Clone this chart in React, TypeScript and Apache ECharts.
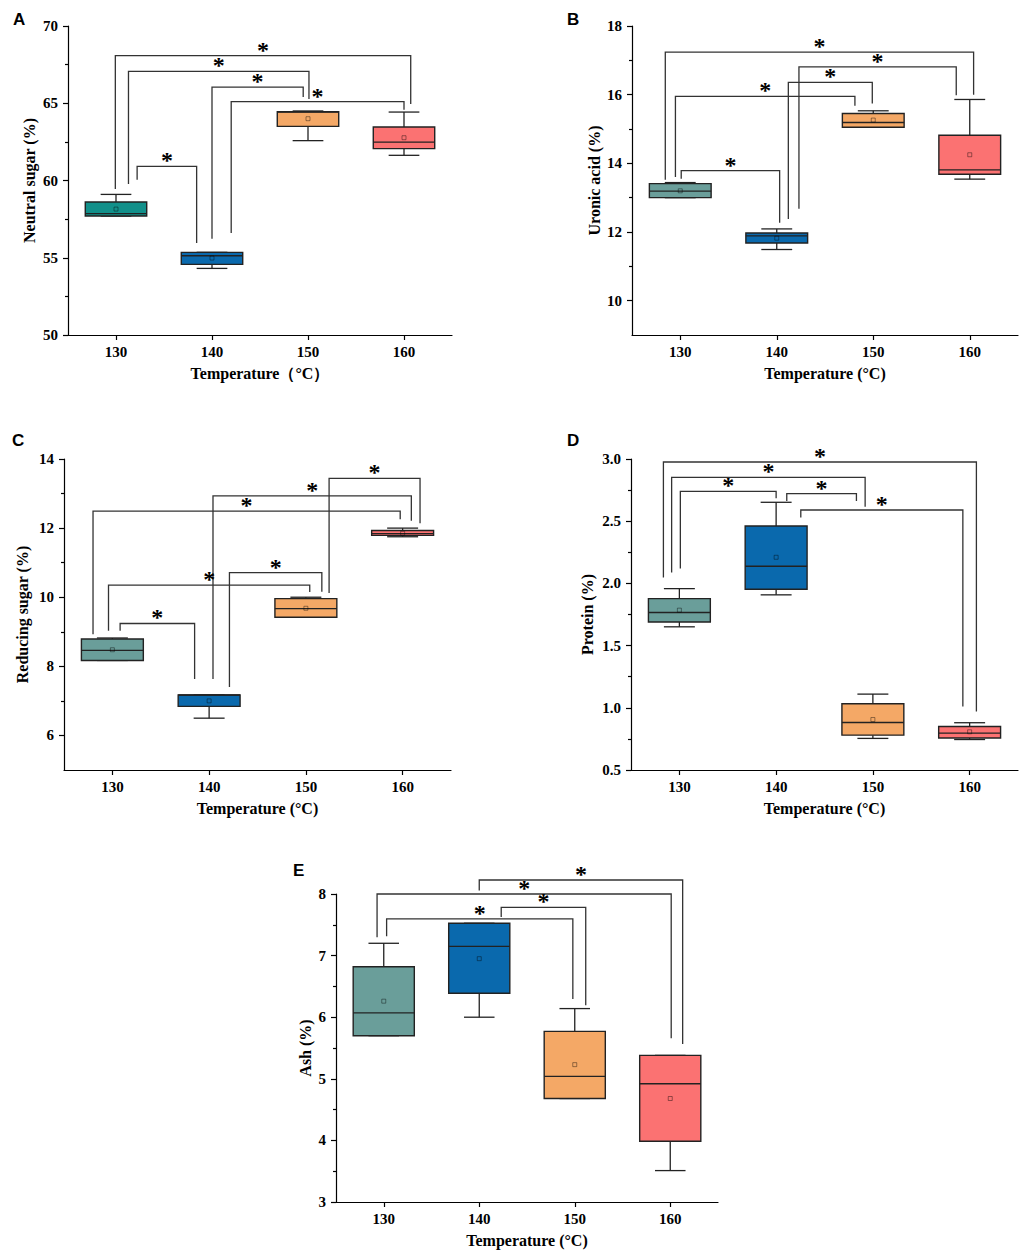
import React, { useEffect, useRef } from "react";
import * as echarts from "echarts";

// ---------- data ----------
const categories = [130, 140, 150, 160];
const xTickValues = [130, 140, 150, 160];

// box stats: [min, Q1, median, Q3, max]
const neutralSugarStats = [
  [57.7, 57.7, 57.86, 58.61, 59.1],
  [54.31, 54.57, 55.13, 55.35, 55.35],
  [62.58, 63.5, 64.42, 64.45, 64.5],
  [61.63, 62.06, 62.49, 63.46, 64.43],
];
const neutralSugarMeans = [58.15, 54.98, 64.0, 62.77];
// brackets: [xLeft, yLeftEnd, xRight, yRightEnd, yTop]
const neutralSugarBrackets = [
  [129.93, 59.45, 160.7, 64.95, 68.08],
  [131.3, 59.77, 150.1, 65.28, 67.06],
  [140.0, 56.23, 149.5, 65.4, 66.05],
  [142.0, 56.6, 160.0, 64.58, 65.1],
  [132.2, 60.05, 138.4, 55.95, 60.91],
];
const neutralSugarMajorTicks = [50, 55, 60, 65, 70];
const neutralSugarMinorTicks = [52.5, 57.5, 62.5, 67.5];

const uronicAcidStats = [
  [13.0, 13.0, 13.19, 13.41, 13.44],
  [11.49, 11.68, 11.89, 11.97, 12.09],
  [15.05, 15.05, 15.19, 15.45, 15.53],
  [13.54, 13.68, 13.81, 14.82, 15.86],
];
const uronicAcidMeans = [13.2, 11.82, 15.26, 14.25];
const uronicAcidBrackets = [
  [128.45, 13.52, 160.4, 16.0, 17.24],
  [129.5, 13.6, 148.1, 15.68, 15.95],
  [141.2, 12.38, 149.9, 15.74, 16.36],
  [142.3, 12.68, 158.6, 15.98, 16.81],
  [130.1, 13.55, 140.3, 12.27, 13.79],
];
const uronicAcidMajorTicks = [10, 12, 14, 16, 18];
const uronicAcidMinorTicks = [11, 13, 15, 17];

const reducingSugarStats = [
  [8.17, 8.17, 8.46, 8.79, 8.82],
  [6.5, 6.84, 7.17, 7.17, 7.17],
  [9.42, 9.42, 9.67, 9.96, 10.0],
  [11.75, 11.79, 11.84, 11.93, 12.0],
];
const reducingSugarMeans = [8.48, 7.0, 9.68, 11.85];
const reducingSugarBrackets = [
  [152.4, 10.12, 161.8, 12.14, 13.44],
  [140.4, 7.63, 160.9, 12.21, 12.93],
  [128.0, 8.93, 159.75, 12.26, 12.49],
  [142.1, 7.4, 151.65, 10.16, 10.71],
  [129.6, 9.03, 150.4, 10.15, 10.35],
  [130.8, 9.03, 138.5, 7.63, 9.24],
];
const reducingSugarMajorTicks = [6, 8, 10, 12, 14];
const reducingSugarMinorTicks = [7, 9, 11, 13];

const proteinStats = [
  [1.651, 1.69, 1.766, 1.878, 1.958],
  [1.908, 1.953, 2.138, 2.462, 2.652],
  [0.754, 0.78, 0.882, 1.032, 1.11],
  [0.745, 0.757, 0.797, 0.85, 0.88],
];
const proteinMeans = [1.785, 2.21, 0.906, 0.807];
const proteinBrackets = [
  [128.35, 2.047, 160.7, 0.97, 2.976],
  [129.2, 2.087, 149.2, 2.617, 2.853],
  [130.1, 2.119, 140.0, 2.684, 2.74],
  [141.1, 2.663, 148.3, 2.663, 2.721],
  [142.55, 2.529, 159.3, 1.01, 2.59],
];
const proteinMajorTicks = [0.5, 1.0, 1.5, 2.0, 2.5, 3.0];
const proteinMinorTicks = [0.75, 1.25, 1.75, 2.25, 2.75];

const ashStats = [
  [5.7, 5.7, 6.07, 6.82, 7.2],
  [6.0, 6.39, 7.15, 7.525, 7.525],
  [4.68, 4.68, 5.04, 5.77, 6.14],
  [3.51, 3.985, 4.92, 5.38, 5.38],
];
const ashMeans = [6.26, 6.95, 5.23, 4.68];
const ashBrackets = [
  [140.0, 8.055, 161.3, 5.563, 8.227],
  [129.3, 7.298, 160.1, 5.66, 8.0],
  [142.3, 7.627, 151.15, 6.195, 7.784],
  [130.3, 7.314, 149.8, 6.297, 7.595],
];
const ashMajorTicks = [3, 4, 5, 6, 7, 8];
const ashMinorTicks = [3.5, 4.5, 5.5, 6.5, 7.5];

const colorsA = ["#12908a", "#0a69ad", "#f4a866", "#fb7272"];
const colorsOther = ["#6a9e9a", "#0a69ad", "#f4a866", "#fb7272"];

// ---------- layout / style ----------
const SERIF = "'Liberation Serif', 'Times New Roman', serif";
const SANS = "'Liberation Sans', Arial, sans-serif";

const panels = [
  {
    letter: "A", letterX: 13, letterY: 11,
    yName: "Neutral sugar (%)", xName: "Temperature（°C）",
    min: 50, max: 70, major: neutralSugarMajorTicks, minor: neutralSugarMinorTicks, dec: 0,
    stats: neutralSugarStats, means: neutralSugarMeans, brackets: neutralSugarBrackets,
    colors: colorsA, grid: { left: 68, top: 26, width: 384, height: 309 }, yGap: 31,
  },
  {
    letter: "B", letterX: 567, letterY: 11,
    yName: "Uronic acid (%)", xName: "Temperature (°C)",
    min: 9, max: 18, major: uronicAcidMajorTicks, minor: uronicAcidMinorTicks, dec: 0,
    stats: uronicAcidStats, means: uronicAcidMeans, brackets: uronicAcidBrackets,
    colors: colorsOther, grid: { left: 632, top: 26, width: 386, height: 309 }, yGap: 30,
  },
  {
    letter: "C", letterX: 12, letterY: 432,
    yName: "Reducing sugar (%)", xName: "Temperature (°C)",
    min: 5, max: 14, major: reducingSugarMajorTicks, minor: reducingSugarMinorTicks, dec: 0,
    stats: reducingSugarStats, means: reducingSugarMeans, brackets: reducingSugarBrackets,
    colors: colorsOther, grid: { left: 64, top: 459, width: 387, height: 311 }, yGap: 34,
  },
  {
    letter: "D", letterX: 567, letterY: 432,
    yName: "Protein (%)", xName: "Temperature (°C)",
    min: 0.5, max: 3.0, major: proteinMajorTicks, minor: proteinMinorTicks, dec: 1,
    stats: proteinStats, means: proteinMeans, brackets: proteinBrackets,
    colors: colorsOther, grid: { left: 631, top: 459, width: 387, height: 311 }, yGap: 36,
  },
  {
    letter: "E", letterX: 293, letterY: 862,
    yName: "Ash (%)", xName: "Temperature (°C)",
    min: 3, max: 8, major: ashMajorTicks, minor: ashMinorTicks, dec: 0,
    stats: ashStats, means: ashMeans, brackets: ashBrackets,
    colors: colorsOther, grid: { left: 336, top: 894, width: 382, height: 308 }, yGap: 23,
  },
];

const BOX_HALF = 3.2;
const CAP_HALF = 1.6;

function buildOption() {
  const grid: any[] = [];
  const xAxis: any[] = [];
  const yAxis: any[] = [];
  const series: any[] = [];
  const graphic: any[] = [];

  panels.forEach((p, i) => {
    grid.push({ ...p.grid });
    xAxis.push({
      type: "value",
      gridIndex: i,
      min: 125,
      max: 165,
      axisLine: { show: true, onZero: false, lineStyle: { color: "#000", width: 1.2 } },
      axisTick: { show: true, customValues: xTickValues, length: 5, lineStyle: { color: "#000", width: 1.2 } },
      axisLabel: {
        customValues: xTickValues, margin: 9, color: "#000",
        fontFamily: SERIF, fontWeight: "bold", fontSize: 15,
      },
      splitLine: { show: false },
      name: p.xName,
      nameLocation: "middle",
      nameGap: 30,
      nameTextStyle: { color: "#000", fontFamily: SERIF, fontWeight: "bold", fontSize: 16 },
    });
    yAxis.push({
      type: "value",
      gridIndex: i,
      min: p.min,
      max: p.max,
      axisLine: { show: true, onZero: false, lineStyle: { color: "#000", width: 1.2 } },
      axisTick: { show: true, customValues: p.major, length: 5, lineStyle: { color: "#000", width: 1.2 } },
      axisLabel: {
        customValues: p.major, margin: 10, color: "#000",
        fontFamily: SERIF, fontWeight: "bold", fontSize: 15,
        formatter: (v: number) => v.toFixed(p.dec),
      },
      splitLine: { show: false },
      name: p.yName,
      nameLocation: "middle",
      nameGap: p.yGap,
      nameTextStyle: { color: "#000", fontFamily: SERIF, fontWeight: "bold", fontSize: 16 },
    });
    yAxis.push({
      type: "value",
      gridIndex: i,
      min: p.min,
      max: p.max,
      position: "left",
      axisLine: { show: false },
      axisTick: { show: true, customValues: p.minor, length: 3, lineStyle: { color: "#000", width: 1.2 } },
      axisLabel: { show: false, customValues: p.minor },
      splitLine: { show: false },
    });

    const colors = p.colors;
    series.push({
      type: "custom",
      xAxisIndex: i,
      yAxisIndex: i * 2,
      clip: false,
      encode: { x: 0, y: [1, 2, 3, 4, 5, 6] },
      data: p.stats.map((s, k) => [categories[k], ...s, p.means[k]]),
      renderItem: (params: any, api: any) => {
        const x = api.value(0);
        const mn = api.value(1), q1 = api.value(2), md = api.value(3);
        const q3 = api.value(4), mx = api.value(5), mean = api.value(6);
        const c = colors[params.dataIndex];
        const lineStyle = { stroke: "#222", lineWidth: 1.3 };
        const pt = (xx: number, yy: number) => api.coord([xx, yy]);
        const children: any[] = [];
        const seg = (a: number[], b: number[]) =>
          children.push({ type: "line", shape: { x1: a[0], y1: a[1], x2: b[0], y2: b[1] }, style: lineStyle });
        seg(pt(x, q3), pt(x, mx));
        seg(pt(x, q1), pt(x, mn));
        seg(pt(x - CAP_HALF, mx), pt(x + CAP_HALF, mx));
        seg(pt(x - CAP_HALF, mn), pt(x + CAP_HALF, mn));
        const tl = pt(x - BOX_HALF, q3);
        const br = pt(x + BOX_HALF, q1);
        children.push({
          type: "rect",
          shape: { x: tl[0], y: tl[1], width: br[0] - tl[0], height: br[1] - tl[1] },
          style: { fill: c, stroke: "#222", lineWidth: 1.4 },
        });
        seg(pt(x - BOX_HALF, md), pt(x + BOX_HALF, md));
        const m = pt(x, mean);
        children.push({
          type: "rect",
          shape: { x: m[0] - 2, y: m[1] - 2, width: 4, height: 4 },
          style: { fill: "none", stroke: "rgba(0,0,0,0.4)", lineWidth: 1 },
        });
        return { type: "group", children };
      },
    });

    series.push({
      type: "custom",
      xAxisIndex: i,
      yAxisIndex: i * 2,
      clip: false,
      encode: { x: [0, 2], y: [1, 3, 4] },
      data: p.brackets,
      renderItem: (params: any, api: any) => {
        const xL = api.value(0), yL = api.value(1), xR = api.value(2), yR = api.value(3), yT = api.value(4);
        const a = api.coord([xL, yL]);
        const b = api.coord([xL, yT]);
        const c = api.coord([xR, yT]);
        const d = api.coord([xR, yR]);
        return {
          type: "group",
          children: [
            {
              type: "polyline",
              shape: { points: [a, b, c, d] },
              style: { fill: "none", stroke: "#333", lineWidth: 1.3 },
            },
            {
              type: "text",
              style: {
                text: "*",
                x: (b[0] + c[0]) / 2,
                y: b[1] - 6,
                fill: "#000",
                font: `bold 24px ${SERIF}`,
                align: "center",
                verticalAlign: "middle",
              },
            },
          ],
        };
      },
    });

    graphic.push({
      type: "text",
      left: p.letterX,
      top: p.letterY,
      style: { text: p.letter, fill: "#000", font: `bold 17px ${SANS}` },
    });
  });

  return { animation: false, backgroundColor: "#fff", grid, xAxis, yAxis, series, graphic };
}

export default function App() {
  const ref = useRef<HTMLDivElement>(null);
  useEffect(() => {
    if (!ref.current) return;
    const chart = echarts.init(ref.current, null, { renderer: "svg" });
    chart.setOption(buildOption() as any);
    return () => chart.dispose();
  }, []);
  return (
    <div
      ref={ref}
      style={{ position: "absolute", left: 0, top: 0, width: 1020, height: 1251, background: "#fff" }}
    />
  );
}
